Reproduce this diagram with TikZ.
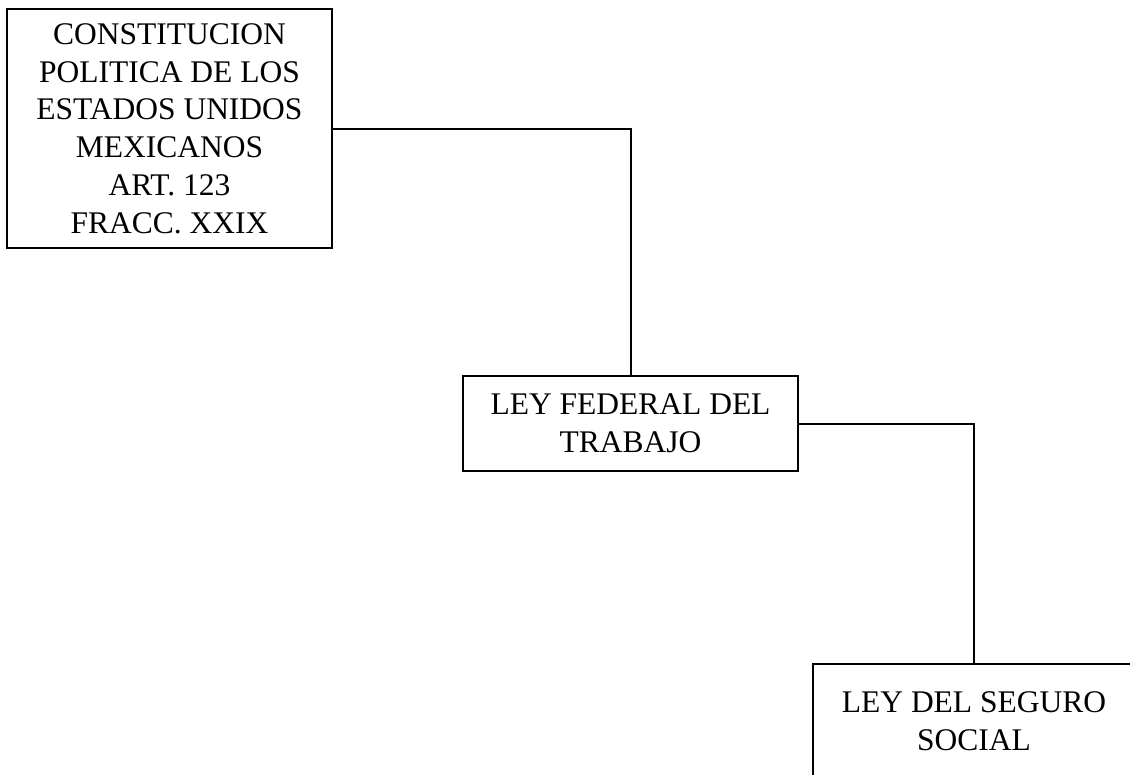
\documentclass[tikz,border=0pt]{standalone}
\usepackage{fontspec}
\setmainfont{Liberation Serif}
\begin{document}
\begin{tikzpicture}[x=1pt,y=-1pt,
  boxstyle/.style={draw=black,line width=2pt,align=center,inner sep=0pt,
    font=\fontsize{31.5}{37.8}\selectfont},
  linkstyle/.style={draw=black,line width=2pt}]
\useasboundingbox (0,0) rectangle (1130,774);
\clip (0,0) rectangle (1130,774);
\fill[white] (0,0) rectangle (1130,774);
\node[boxstyle,minimum width=325pt,minimum height=239pt] (b1) at (169.5,128.5)
  {CONSTITUCION\\POLITICA DE LOS\\ESTADOS UNIDOS\\MEXICANOS\\ART. 123\\FRACC. XXIX};
\node[boxstyle,minimum width=335pt,minimum height=95pt] (b2) at (630.5,423.5)
  {LEY FEDERAL DEL\\TRABAJO};
\node[boxstyle,minimum width=322pt,minimum height=114pt] (b3) at (974,721)
  {LEY DEL SEGURO\\SOCIAL};
\draw[linkstyle] (b1.east) -| (b2.north);
\draw[linkstyle] (b2.east) -| (b3.north);
\end{tikzpicture}
\end{document}
